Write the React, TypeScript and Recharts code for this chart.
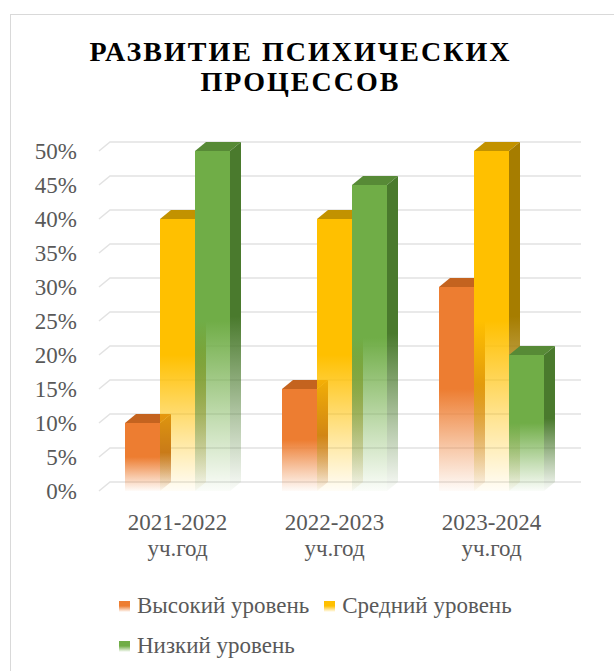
import { BarChart, Bar, XAxis, YAxis, CartesianGrid } from 'recharts'

const YEARS = ['2021-2022 уч.год', '2022-2023 уч.год', '2023-2024 уч.год']
const HIGH = [10, 15, 30]
const MIDDLE = [40, 40, 50]
const LOW = [50, 45, 20]
const Y_TICKS = [0, 5, 10, 15, 20, 25, 30, 35, 40, 45, 50]
const TITLE = ['РАЗВИТИЕ ПСИХИЧЕСКИХ', 'ПРОЦЕССОВ']

// front colour, darker side face, top face
const SERIES = [
  { key: 'high', name: 'Высокий уровень', color: '#ED7D31', side: '#B35E22', top: '#C4631F' },
  { key: 'middle', name: 'Средний уровень', color: '#FFC000', side: '#A67D00', top: '#C29200' },
  { key: 'low', name: 'Низкий уровень', color: '#70AD47', side: '#4A7A2D', top: '#578A36' },
]

const data = YEARS.map((year, i) => ({ year, high: HIGH[i], middle: MIDDLE[i], low: LOW[i] }))

// 3d depth offset
const DX = 11
const DY = -9
const FONT = "'Liberation Serif', 'Times New Roman', Tinos, 'DejaVu Serif', 'Noto Serif', serif"
const TEXT = '#595959'

function fade(id: string, color: string) {
  return (
    <linearGradient id={id} x1="0" y1="0" x2="0" y2="1">
      <stop offset="0" stopColor={color} stopOpacity={1} />
      <stop offset="0.5" stopColor={color} stopOpacity={1} />
      <stop offset="0.8" stopColor={color} stopOpacity={0.4} />
      <stop offset="1" stopColor={color} stopOpacity={0.03} />
    </linearGradient>
  )
}

function renderBar(props: any, s: typeof SERIES[number]) {
  const { x, y, width, height, index } = props
  if (!height) return <g />
  const b = y + height
  const id = `${s.key}-${index}`
  return (
    <g>
      <defs>
        {fade(`front-${id}`, s.color)}
        {fade(`side-${id}`, s.side)}
      </defs>
      <polygon
        points={`${x},${y} ${x + width},${y} ${x + width + DX},${y + DY} ${x + DX},${y + DY}`}
        fill={s.top}
      />
      <polygon
        points={`${x + width},${y} ${x + width + DX},${y + DY} ${x + width + DX},${b + DY} ${x + width},${b}`}
        fill={`url(#side-${id})`}
      />
      <rect x={x} y={y} width={width} height={height} fill={`url(#front-${id})`} />
    </g>
  )
}

function gridLine(p: any) {
  return (
    <path
      key={`grid-${p.index}`}
      d={`M${p.x1},${p.y1} L${p.x1 + DX},${p.y1 + DY} L${p.x2 + DX},${p.y2 + DY}`}
      stroke="#e2e2e2"
      strokeWidth={1.5}
      fill="none"
    />
  )
}

function CategoryTick({ x, y, payload }: any) {
  const [first, second] = String(payload.value).split(' ')
  return (
    <text textAnchor="middle" fill={TEXT} fontSize={23} style={{ fontFamily: FONT }}>
      <tspan x={x} y={y + 31}>{first}</tspan>
      <tspan x={x} y={y + 57}>{second}</tspan>
    </text>
  )
}

export default function App() {
  return (
    <div style={{ position: 'absolute', left: 0, top: 0, width: 614, height: 671, overflow: 'hidden', background: '#fff', fontFamily: FONT }}>
      <div style={{ position: 'absolute', left: 10, top: 14, width: 700, height: 700, border: '1px solid #d9d9d9' }} />
      <div style={{ position: 'absolute', left: 0, top: 0 }}>
        <BarChart
          width={614}
          height={671}
          data={data}
          barSize={35}
          barGap={0}
          margin={{ top: 151, right: 44, left: 20, bottom: 120 }}
          style={{ fontFamily: FONT }}
        >
          <CartesianGrid vertical={false} horizontal={gridLine} />
          <XAxis
            dataKey="year"
            axisLine={false}
            tickLine={false}
            height={60}
            interval={0}
            tick={<CategoryTick />}
          />
          <YAxis
            domain={[0, 50]}
            ticks={Y_TICKS}
            interval={0}
            width={79}
            axisLine={false}
            tickLine={false}
            tickMargin={16}
            tickFormatter={(v) => `${v}%`}
            tick={{ fontSize: 23, fill: TEXT, style: { fontFamily: FONT } }}
          />
          {SERIES.map((s) => (
            <Bar
              key={s.key}
              dataKey={s.key}
              name={s.name}
              isAnimationActive={false}
              shape={(p: any) => renderBar(p, s)}
            />
          ))}
        </BarChart>
      </div>
      <div
        style={{
          position: 'absolute',
          left: 0,
          top: 37,
          width: 601,
          textAlign: 'center',
          fontWeight: 'bold',
          fontSize: 28,
          lineHeight: '30px',
          letterSpacing: 2,
          color: '#000',
        }}
      >
        {TITLE.map((t) => (
          <div key={t}>{t}</div>
        ))}
      </div>
      <div
        style={{
          position: 'absolute',
          left: 119,
          top: 586,
          width: 440,
          display: 'flex',
          flexWrap: 'wrap',
          fontSize: 23,
          lineHeight: '40px',
          color: TEXT,
        }}
      >
        {SERIES.map((s) => (
          <div key={s.key} style={{ display: 'flex', alignItems: 'center', marginRight: 15 }}>
            <span
              style={{
                display: 'inline-block',
                width: 11,
                height: 11,
                marginRight: 7,
                background: `linear-gradient(${s.color} 0%, ${s.color} 45%, rgba(255,255,255,0.2) 100%)`,
              }}
            />
            <span>{s.name}</span>
          </div>
        ))}
      </div>
    </div>
  )
}
